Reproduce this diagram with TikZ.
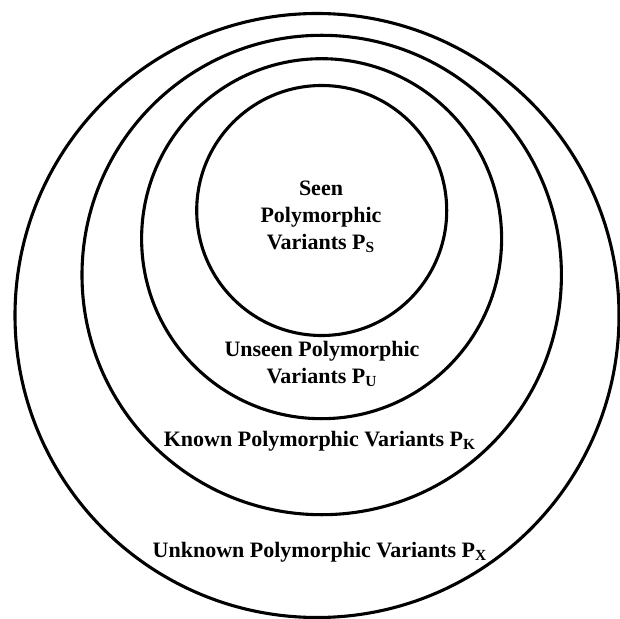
\documentclass[tikz,border=0pt]{standalone}
\usepackage{fontspec}
\setmainfont{Liberation Serif}
\tikzset{
  ring/.style={circle, draw, line width=1.55pt, inner sep=0pt},
  lbl/.style={align=center, font=\fontsize{11}{13.3}\selectfont\bfseries, inner sep=0pt},
}
\begin{document}
\begin{tikzpicture}[x=0.5pt, y=-0.5pt]
\useasboundingbox (0,0) rectangle (619,619);
% ---- rings, outer to inner ----
\node[ring, minimum size=302pt]   (unknown) at (317,315.5) {};
\node[ring, minimum size=239.7pt] (known)   at (321.7,275.0) {};
\node[ring, minimum size=180pt]   (unseen)  at (321.6,238.7) {};
\node[ring, minimum size=125pt]   (seen)    at (321.7,210.5) {};
% ---- labels ----
\node[lbl] (seenlbl)    at (321,217) {Seen\\ Polymorphic\\ Variants P\textsubscript{S}};
\node[lbl] (unseenlbl)  at (322,364) {Unseen Polymorphic\\ Variants P\textsubscript{U}};
\node[lbl] (knownlbl)   at (320,441) {Known Polymorphic Variants P\textsubscript{K}};
\node[lbl] (unknownlbl) at (320,552) {Unknown Polymorphic Variants P\textsubscript{X}};
\end{tikzpicture}
\end{document}
